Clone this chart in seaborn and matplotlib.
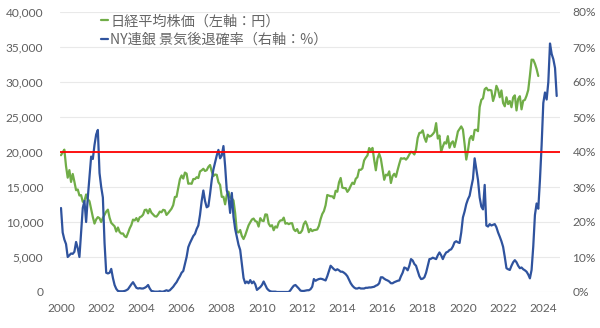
import numpy as np
import pandas as pd
import matplotlib
matplotlib.use("Agg")
import matplotlib.pyplot as plt
from matplotlib.lines import Line2D
import seaborn as sns

# Nikkei 225, monthly close (yen), Jan 2000 - Oct 2023
nk_2000 = [19540, 19959, 20337, 17974, 16332, 17411, 15727, 16861, 15747, 14539, 14648, 13785]
nk_2001 = [13843, 12883, 12999, 13934, 13262, 12969, 11860, 10713, 9774, 10366, 10697, 10542]
nk_2002 = [9997, 10587, 11024, 11492, 11763, 10621, 9877, 9619, 9383, 8640, 9215, 8578]
nk_2003 = [8339, 8363, 7972, 7831, 8425, 9083, 9563, 10343, 10219, 10559, 10100, 10676]
nk_2004 = [10783, 11041, 11715, 11761, 11236, 11858, 11325, 11081, 10824, 10771, 11076, 11488]
nk_2005 = [11387, 11740, 11668, 11008, 11276, 11584, 11899, 12413, 13574, 13606, 14872, 16111]
nk_2006 = [16649, 16205, 17059, 16906, 15467, 15505, 15456, 16140, 16127, 16399, 16274, 17225]
nk_2007 = [17383, 17604, 17288, 17400, 17875, 18138, 17248, 16569, 16785, 16737, 15680, 15307]
nk_2008 = [13592, 13603, 12525, 13849, 14338, 13481, 13376, 13072, 11259, 8576, 8512, 8859]
nk_2009 = [7994, 7568, 8109, 8828, 9522, 9958, 10356, 10492, 10133, 10034, 9345, 10546]
nk_2010 = [10198, 10126, 11089, 11057, 9768, 9382, 9537, 8824, 9369, 9202, 9937, 10228]
nk_2011 = [10237, 10624, 9755, 9849, 9693, 9816, 9833, 8955, 8700, 8988, 8434, 8455]
nk_2012 = [8802, 9723, 10083, 9520, 8542, 9006, 8695, 8839, 8870, 8928, 9446, 10395]
nk_2013 = [11138, 11559, 12397, 13860, 13774, 13677, 13668, 13388, 14455, 14327, 15662, 16291]
nk_2014 = [14914, 14841, 14827, 14304, 14632, 15162, 15620, 15425, 16173, 16413, 17459, 17450]
nk_2015 = [17674, 18797, 19206, 19520, 20563, 20235, 20585, 18890, 17388, 19083, 19747, 19033]
nk_2016 = [17518, 16026, 16758, 16666, 17234, 15575, 16569, 16887, 16449, 17425, 18308, 19114]
nk_2017 = [19041, 19118, 18909, 19196, 19650, 20033, 19925, 19646, 20356, 22011, 22724, 22764]
nk_2018 = [23098, 22068, 21454, 22467, 22201, 22304, 22553, 22865, 24120, 21920, 22351, 20014]
nk_2019 = [20773, 21385, 21205, 22259, 20601, 21275, 21521, 20704, 21755, 22927, 23293, 23656]
nk_2020 = [23205, 21143, 18917, 20193, 21877, 22288, 21710, 23139, 23185, 22977, 26433, 27444]
nk_2021 = [27663, 28966, 29178, 28812, 28860, 28791, 27283, 28089, 29452, 28892, 27821, 28791]
nk_2022 = [27001, 26526, 27821, 26847, 27279, 26393, 27801, 28091, 25937, 27587, 27968, 26094]
nk_2023 = [27327, 27445, 28041, 28856, 30887, 33189, 33172, 32619, 31857, 30858]

# NY Fed probability of US recession 12 months ahead (%), Jan 2000 - Sep 2024
rp_2000 = [24, 17, 15, 13.7, 10, 10.5, 11, 10.9, 11.5, 14.3, 12.5, 10]
rp_2001 = [17, 24, 26, 20, 27, 33, 38.7, 38, 42, 45, 46.3, 34]
rp_2002 = [30, 27, 14, 5.5, 5.3, 5.5, 6.6, 4, 2, 0.9, 0.3, 0.2]
rp_2003 = [0.2, 0.2, 0.3, 0.5, 0.8, 1.5, 2.2, 2.8, 2, 1.2, 1, 1.1]
rp_2004 = [1, 1, 1.2, 1.5, 2, 1, 0.3, 0.2, 0.1, 0.1, 0.1, 0.2]
rp_2005 = [0.1, 0.1, 0.3, 0.5, 0.3, 0.5, 1, 1.5, 2.2, 2.8, 3.7, 4.5]
rp_2006 = [5.5, 6, 8, 10, 12.8, 14, 15, 16, 16.6, 18, 19, 22]
rp_2007 = [26, 29, 26, 24.2, 24.5, 28, 32, 35, 37, 39, 40.6, 38.2]
rp_2008 = [39, 41.7, 36, 29, 27.2, 22.6, 28.3, 21.5, 18, 15.8, 13.5, 12]
rp_2009 = [8, 4, 2.5, 3, 2.5, 3.4, 2.5, 3, 2.2, 0.6, 1, 1.4]
rp_2010 = [2, 3, 2, 1, 0.5, 0.2, 0.1, 0.1, 0.1, 0, 0, 0]
rp_2011 = [0, 0, 0, 0, 0, 0.5, 1.2, 1.8, 2, 1.5, 1, 0.4]
rp_2012 = [0.3, 0.3, 0.4, 0.5, 0.5, 0.8, 1.5, 3.7, 3.2, 3.5, 3.7, 3.8]
rp_2013 = [3.7, 3.5, 3.3, 4.5, 6, 7.5, 7, 6.5, 6.2, 6.5, 6.2, 5.8]
rp_2014 = [5.8, 5.5, 5.1, 4.5, 3.5, 2.5, 1.8, 1.3, 1, 1, 1.2, 1]
rp_2015 = [1, 1, 1.2, 1.2, 1.3, 1.3, 1.4, 1.5, 1.8, 2, 2.5, 4.2]
rp_2016 = [4.2, 3.8, 3.5, 3.3, 3, 2.5, 2.5, 2.8, 3, 3.2, 3.3, 4.5]
rp_2017 = [5.5, 7, 6.8, 6.2, 7.5, 9.4, 9, 8, 7.5, 6, 4.5, 3.7]
rp_2018 = [3.8, 4.2, 5.5, 7.5, 9.4, 9.5, 9.8, 9.6, 9.4, 10.5, 11.3, 10.5]
rp_2019 = [9.4, 10.5, 11.3, 11.5, 12, 12.2, 13, 14.2, 14.5, 14.2, 14, 17]
rp_2020 = [21.3, 23, 25.1, 26.5, 27.5, 30, 32.3, 38.2, 35, 32, 27, 24.4]
rp_2021 = [23.6, 30.6, 19, 18.7, 19.4, 19, 19.2, 19.4, 18.5, 17, 15.8, 14.5]
rp_2022 = [12.9, 10, 6.8, 6.5, 6.3, 7.5, 8.5, 9.1, 8.5, 7.5, 6.8, 7]
rp_2023 = [6.5, 6.2, 5.8, 5, 3.9, 6.3, 13, 22, 25.3, 23.8, 32, 42]
rp_2024 = [54, 57, 55, 60, 71, 68, 66.5, 64, 56]

threshold_pct = 40  # reference line (= 20,000 yen on the left scale)

left_ticks = [0, 5000, 10000, 15000, 20000, 25000, 30000, 35000, 40000]
right_ticks = [0, 10, 20, 30, 40, 50, 60, 70, 80]
year_ticks = [2000, 2002, 2004, 2006, 2008, 2010, 2012, 2014, 2016, 2018, 2020, 2022, 2024]

label_nk = "日経平均株価（左軸：円）"
label_rp = "NY連銀 景気後退確率（右軸：%）"

nikkei = sum([nk_2000, nk_2001, nk_2002, nk_2003, nk_2004, nk_2005, nk_2006, nk_2007,
              nk_2008, nk_2009, nk_2010, nk_2011, nk_2012, nk_2013, nk_2014, nk_2015,
              nk_2016, nk_2017, nk_2018, nk_2019, nk_2020, nk_2021, nk_2022, nk_2023], [])
recession = sum([rp_2000, rp_2001, rp_2002, rp_2003, rp_2004, rp_2005, rp_2006, rp_2007,
                 rp_2008, rp_2009, rp_2010, rp_2011, rp_2012, rp_2013, rp_2014, rp_2015,
                 rp_2016, rp_2017, rp_2018, rp_2019, rp_2020, rp_2021, rp_2022, rp_2023,
                 rp_2024], [])


def month_axis(n):
    d = pd.date_range("2000-01-01", periods=n, freq="MS")
    return d.year + (d.month - 1) / 12.0


df_nk = pd.DataFrame({"t": month_axis(len(nikkei)), "v": nikkei})
df_rp = pd.DataFrame({"t": month_axis(len(recession)), "v": recession})

sns.set_theme(style="white")
plt.rcParams["font.family"] = ["Noto Sans CJK JP", "DejaVu Sans"]

GREEN = "#70ad47"
BLUE = "#2f539e"
RED = "#ff0000"
GRAY = "#606060"

fig = plt.figure(figsize=(6.0, 3.28), dpi=100)
ax = fig.add_axes([0.1, 36 / 328, 0.8333, 280 / 328])
ax2 = ax.twinx()

sns.lineplot(data=df_nk, x="t", y="v", ax=ax, color=GREEN, linewidth=1.6, zorder=3)
sns.lineplot(data=df_rp, x="t", y="v", ax=ax2, color=BLUE, linewidth=1.6, zorder=3)
ax2.axhline(threshold_pct, color=RED, linewidth=1.3, zorder=5)

ax.set_xlim(1999.95, 2024.83)
ax.set_ylim(0, 40000)
ax2.set_ylim(0, 80)

ax.set_xticks(year_ticks)
ax.set_xticklabels([str(y) for y in year_ticks])
ax.set_yticks(left_ticks)
ax.set_yticklabels([f"{v:,}" for v in left_ticks])
ax2.set_yticks(right_ticks)
ax2.set_yticklabels([f"{v}%" for v in right_ticks])

ax.grid(axis="y", color="#e9e9e9", linewidth=0.8)
ax.grid(axis="x", visible=False)
ax2.grid(False)
ax.set_xlabel("")
ax.set_ylabel("")
ax2.set_xlabel("")
ax2.set_ylabel("")

for a in (ax, ax2):
    for s in a.spines.values():
        s.set_visible(False)

tick_font = {"family": ["Lato", "DejaVu Sans"], "size": 8.6}
ax.tick_params(axis="both", length=0, colors=GRAY)
ax.tick_params(axis="y", pad=12)
ax.tick_params(axis="x", pad=8)
ax2.tick_params(axis="y", length=0, colors=GRAY, pad=9)
for lbl in ax.get_xticklabels() + ax.get_yticklabels() + ax2.get_yticklabels():
    lbl.set_fontfamily(tick_font["family"])
    lbl.set_fontsize(tick_font["size"])

handles = [Line2D([], [], color=GREEN, linewidth=1.6),
           Line2D([], [], color=BLUE, linewidth=1.6)]
leg = ax2.legend(handles, [label_nk, label_rp], loc="upper left",
                 bbox_to_anchor=(0.082, 0.992), frameon=False, fontsize=10.2,
                 handlelength=0.5, handletextpad=0.15, labelspacing=0.32,
                 borderpad=0, borderaxespad=0)
for t in leg.get_texts():
    t.set_color("#666666")

fig.savefig("out.png", dpi=100, facecolor="white")
